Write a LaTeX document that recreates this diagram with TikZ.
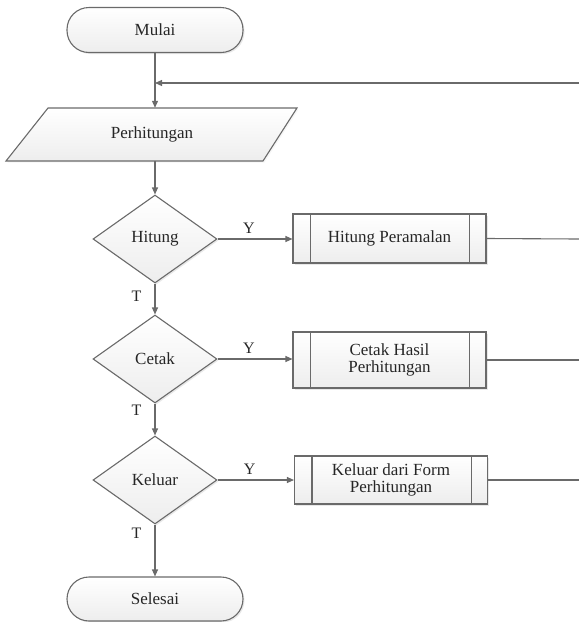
\documentclass[tikz,border=0pt]{standalone}
\usepackage{fontspec}
\setmainfont{Liberation Serif}
\usetikzlibrary{shapes.geometric,arrows.meta,shadows}
\definecolor{lc}{HTML}{6A6A6A}
\definecolor{tc}{HTML}{262626}
\begin{document}
\begin{tikzpicture}[x=1pt,y=1pt,
  font=\fontsize{17}{17.5}\selectfont, text=tc,
  shape fill/.style={top color=white, bottom color=gray!14, draw=lc, line width=1.1pt,
     drop shadow={opacity=0.18, shadow xshift=1.5pt, shadow yshift=-1.5pt}},
  terminal/.style={shape fill, rectangle, rounded corners=22pt, minimum width=176pt, minimum height=45pt, inner sep=0},
  decision/.style={shape fill, diamond, minimum width=124pt, minimum height=88pt, inner sep=0},
  procbox/.style={shape fill, rectangle, minimum width=193pt, inner sep=0, align=center},
  conn/.style={draw=lc, line width=1.1pt},
  arr/.style={conn, -{Triangle[length=7pt,width=6pt]}},
  lbl/.style={font=\fontsize{16}{16}\selectfont, inner sep=0}
]
\useasboundingbox (0,0) rectangle (579,-622);

% nodes
\node[terminal] (start) at (155,-30) {Mulai};
\node[minimum width=200pt, minimum height=53pt, inner sep=0] (calc) at (155,-134.5) {};
\fill[gray!40, opacity=0.18] (49.5,-109.5) -- (298.5,-109.5) -- (264.5,-162.5) -- (7.5,-162.5) -- cycle;
\path[top color=white, bottom color=gray!14, draw=lc, line width=1.1pt]
  (48,-108) -- (297,-108) -- (263,-161) -- (6,-161) -- cycle;
\node at (152,-134.5) {Perhitungan};

\node[decision] (d1) at (155,-239) {Hitung};
\node[decision] (d2) at (155,-359) {Cetak};
\node[decision] (d3) at (155,-480) {Keluar};

\node[procbox, minimum height=49pt] (p1) at (389.5,-238.5) {Hitung Peramalan};
\node[procbox, minimum height=56pt] (p2) at (389.5,-360) {Cetak Hasil\\Perhitungan};
\node[procbox, minimum height=48pt] (p3) at (391,-480) {Keluar dari Form\\Perhitungan};
\foreach \p in {p1,p2,p3}{
  \draw[conn] ([xshift=18pt]\p.north west) -- ([xshift=18pt]\p.south west);
  \draw[conn] ([xshift=-17pt]\p.north east) -- ([xshift=-17pt]\p.south east);
}

\node[terminal, minimum height=44pt] (end) at (155,-599) {Selesai};

% coordinates
\coordinate (j) at (155,-83);
\coordinate (r0) at (579,-83);
\coordinate (r1) at (579,-239);
\coordinate (r2) at (579,-360);
\coordinate (r3) at (579,-480);

% connectors
\draw[conn] (start.south) -- (j);
\draw[arr] (j) -- (calc.north);
\draw[arr] (r0) -- (j);
\draw[arr] (calc.south) -- (d1.north);

\draw[arr] (d1.east) -- node[lbl, pos=0.42, above=5pt] {Y} (p1.west |- d1.east);
\draw[arr] (d2.east) -- node[lbl, pos=0.42, above=5pt] {Y} (p2.west |- d2.east);
\draw[arr] (d3.east) -- node[lbl, pos=0.42, above=5pt] {Y} (p3.west |- d3.east);

\draw[arr] (d1.south) -- node[lbl, pos=0.4, left=13pt] {T} (d2.north);
\draw[arr] (d2.south) -- node[lbl, pos=0.22, left=13pt] {T} (d3.north);
\draw[arr] (d3.south) -- node[lbl, pos=0.17, left=13pt] {T} (end.north);

\draw[conn] (p1.east) -- (r1);
\draw[conn] (p2.east) -- (r2);
\draw[conn] (p3.east) -- (r3);
\end{tikzpicture}
\end{document}
